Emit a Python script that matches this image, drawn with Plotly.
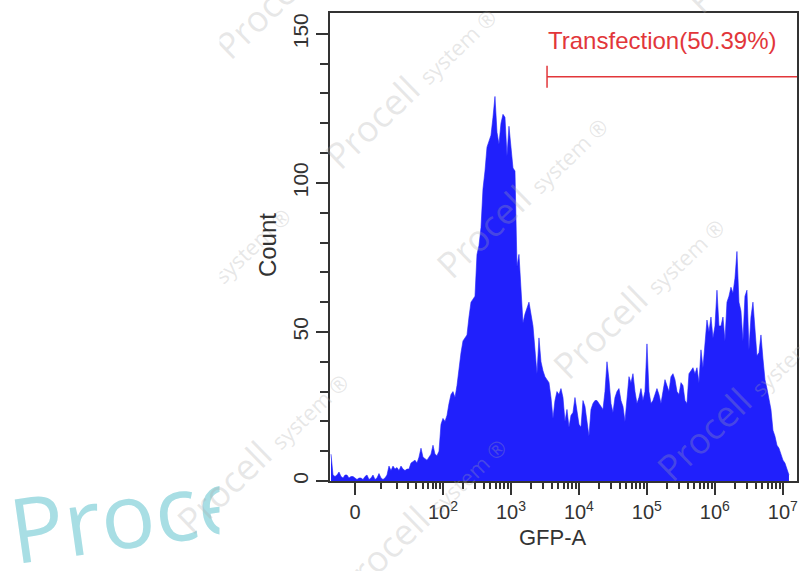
import numpy as np
import plotly.graph_objects as go

# ---------------- data ----------------
# Event counts per histogram bin, bins evenly spaced on the biexponential display scale
counts = [
    9, 2, 1.5, 2, 3, 1.5, 1, 2, 2, 1, 1.5, 1.5, 1, 0.5, 1,
    1, 0.5, 1.5, 2, 0.5, 1, 2, 0.5, 1, 2.5, 1, 0.5, 1, 2,
    5, 3.5, 5, 4, 4.5, 3.5, 5, 4, 3.5, 4, 4,
    6, 6.5, 7, 6, 8, 11, 8, 7.5, 7, 8, 9, 12, 9, 8.5, 10,
    19, 21, 20, 22, 26, 29, 30, 28,
    32, 38, 43, 47, 48, 49, 55,
    60, 61, 62, 76, 79, 85,
    98, 104, 112, 114, 116,
    122, 129, 117, 113,
    120, 123, 122, 109, 119, 111, 105, 104,
    72, 76, 62, 53, 56, 58, 60, 56, 52, 44, 36, 48, 40, 37, 35, 34, 33, 28, 21, 27, 30,
    29, 31, 28, 20, 24, 18, 22, 23, 28, 24,
    19, 18, 27, 25, 19, 15, 24, 26, 27, 27,
    26, 25, 24, 30, 40, 34, 26, 23, 28, 30,
    31, 27, 25, 20, 27, 35, 33, 36, 30, 26,
    28, 31, 27, 30, 46, 30, 26, 27, 29, 31,
    29, 26, 30, 34, 32, 30, 35, 36, 34, 30,
    29,
    33, 32, 27, 26, 36, 37, 38, 36, 38, 33,
    44, 38, 45, 54, 50, 55, 48, 52, 64, 52,
    52, 55, 47, 60, 62, 65, 63, 68, 77, 60,
    57, 47, 62, 64, 44, 55, 60, 50, 42, 43,
    49, 41, 34, 31, 28, 24, 17, 15, 12, 11,
    9, 7, 6, 4, 2,
]

# GFP-A value of the first and last bin centre
gfp_first = -9.22
gfp_last = 1.23e7

# axis ticks
major_vals = [0, 1e2, 1e3, 1e4, 1e5, 1e6, 1e7]
major_text = ["0", "10<sup>2</sup>", "10<sup>3</sup>", "10<sup>4</sup>",
              "10<sup>5</sup>", "10<sup>6</sup>", "10<sup>7</sup>"]
minor_vals = [-10, 10] + [m * 10 ** d for d in range(1, 7) for m in range(2, 10)]
y_ticks = [0, 50, 100, 150]

# gate
gate_label = "Transfection(50.39%)"
gate_start = 3400
gate_level = 135.6
gate_label_level = 147.7

# axis limits
gfp_min, gfp_max = -9.69, 1.615e7
count_max = 157

# ---------------- biexponential-like display transform ----------------
W = 10.18


def disp(v):
    return np.arcsinh(np.asarray(v, dtype=float) / W)


bins_disp = np.linspace(disp(gfp_first), disp(gfp_last), len(counts))
gfp_centres = W * np.sinh(bins_disp)
xd = disp(gfp_centres)
x_range = [float(disp(gfp_min)), float(disp(gfp_max))]

BLUE = "rgb(32,32,252)"
RED = "#e2363a"
AX = "#333333"
FONT = "Liberation Sans, Arial, sans-serif"
WM = "rgba(170,170,170,0.28)"
WMFONT = "Open Sans, sans-serif"

fig = go.Figure()
fig.add_trace(go.Scatter(
    x=xd, y=counts, mode="lines",
    line=dict(color=BLUE, width=0.6),
    fill="tozeroy", fillcolor=BLUE,
    showlegend=False, hoverinfo="skip",
))
# dummy trace for the minor-tick axis
fig.add_trace(go.Scatter(x=[x_range[0]], y=[0], xaxis="x2", mode="markers",
                         marker=dict(opacity=0), showlegend=False, hoverinfo="skip"))

gx = float(disp(gate_start))
cap = 3.7
fig.add_shape(type="line", xref="x", yref="y", x0=gx, x1=x_range[1],
              y0=gate_level, y1=gate_level, line=dict(color=RED, width=1.5))
fig.add_shape(type="line", xref="x", yref="y", x0=gx, x1=gx,
              y0=gate_level - cap, y1=gate_level + cap, line=dict(color=RED, width=1.5))


def px2paper(px, py):
    return (px - 330) / 467, (481 - py) / 468


def white_box(x0, y0, x1, y1):
    xp, yp = px2paper(x0, y0)
    fig.add_annotation(x=xp, y=yp, xref="paper", yref="paper", text=" ",
                       showarrow=False, xanchor="left", yanchor="top",
                       width=x1 - x0, height=y1 - y0, borderpad=0,
                       bgcolor="white", font=dict(size=1))


# large cyan watermark (cut by the chart picture's left edge)
xp, yp = px2paper(128, 513)
fig.add_annotation(x=xp, y=yp, xref="paper", yref="paper",
                   text="Proce", showarrow=False, xanchor="center", yanchor="middle",
                   textangle=-8,
                   font=dict(family=WMFONT, size=90, color="rgb(168,222,228)"))
white_box(219, 462, 284, 571)

# faint diagonal watermarks
wm_text = "Procell <span style='font-size:22px'>system ®</span>"
for (px, py) in [(300, -25), (410, 85), (522, 195), (638, 295), (742, 397),
                 (420, 515), (205, 285), (772, -70), (262, 450)]:
    xp, yp = px2paper(px, py)
    fig.add_annotation(x=xp, y=yp, xref="paper", yref="paper",
                       text=wm_text, showarrow=False, textangle=-44,
                       xanchor="center", yanchor="middle",
                       font=dict(family=WMFONT, size=36, color=WM))
white_box(0, 0, 218, 440)

# gate label
fig.add_annotation(x=gx, y=gate_label_level, xref="x", yref="y", text=gate_label,
                   showarrow=False, xanchor="left", yanchor="middle",
                   xshift=-1, font=dict(family=FONT, size=24, color=RED))

# axis titles
fig.add_annotation(x=-0.135, y=0.504, xref="paper", yref="paper", text="Count",
                   textangle=-90, showarrow=False, xanchor="center", yanchor="middle",
                   font=dict(family=FONT, size=24, color=AX))
fig.add_annotation(x=0.478, y=-0.12, xref="paper", yref="paper", text="GFP-A",
                   showarrow=False, xanchor="center", yanchor="middle",
                   font=dict(family=FONT, size=22, color=AX))

fig.update_layout(
    width=800, height=571,
    margin=dict(l=330, r=3, t=13, b=90, autoexpand=False),
    paper_bgcolor="white", plot_bgcolor="white",
    font=dict(family=FONT, color=AX),
    xaxis=dict(
        range=x_range, tickvals=disp(major_vals).tolist(), ticktext=major_text,
        ticks="outside", ticklen=12, tickwidth=1.5, tickcolor=AX, automargin=False,
        showline=True, linecolor=AX, linewidth=2, mirror=True,
        showgrid=False, zeroline=False, tickfont=dict(size=20, color=AX),
    ),
    xaxis2=dict(
        range=x_range, overlaying="x", anchor="y", side="bottom", automargin=False,
        tickvals=disp(minor_vals).tolist(), ticks="outside", ticklen=7,
        tickwidth=1.5, tickcolor=AX, showticklabels=False,
        showline=False, showgrid=False, zeroline=False,
    ),
    yaxis=dict(
        range=[0, count_max], tickvals=y_ticks, tickangle=-90, automargin=False,
        ticks="outside", ticklen=12, tickwidth=1.5, tickcolor=AX,
        minor=dict(dtick=10, tick0=0, ticks="outside", ticklen=8, tickwidth=1.5, tickcolor=AX),
        showline=True, linecolor=AX, linewidth=2, mirror=True,
        showgrid=False, zeroline=False, tickfont=dict(size=21, color=AX),
    ),
)

fig.write_html("out.html", config={"displayModeBar": False},
               post_script="document.body.style.margin='0';document.body.style.overflow='hidden';")
